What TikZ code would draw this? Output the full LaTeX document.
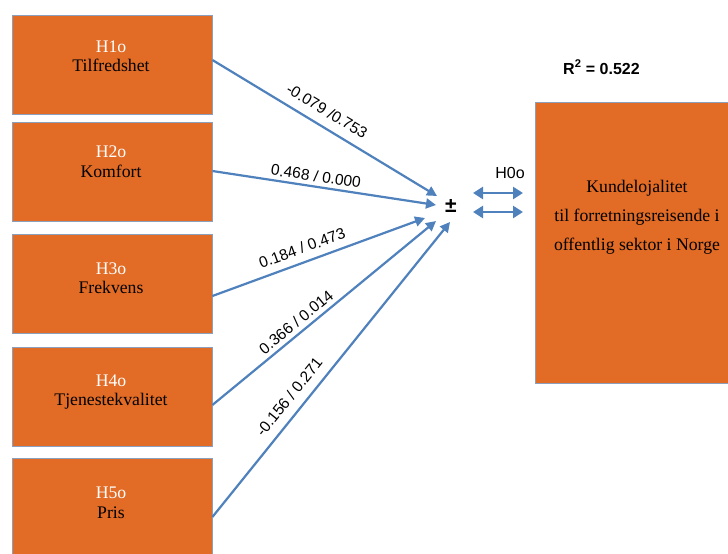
\documentclass[tikz,border=0pt]{standalone}
\usepackage{fontspec}
\setmainfont{Liberation Serif}
\newfontfamily\arialfont{Liberation Sans}
\usetikzlibrary{arrows.meta}
\definecolor{boxorange}{RGB}{226,107,38}
\definecolor{linkblue}{RGB}{79,129,189}
\definecolor{boxedge}{RGB}{140,160,190}
\begin{document}
\begin{tikzpicture}[x=1pt,y=-1pt,
  hbox/.style={draw=boxedge,line width=0.8pt,fill=boxorange,minimum width=200pt,minimum height=99pt,inner sep=0pt},
  bigbox/.style={draw=boxedge,line width=0.8pt,fill=boxorange,minimum width=205pt,minimum height=281pt,inner sep=0pt},
  hname/.style={anchor=base,inner sep=0pt,text=white,font=\fontsize{17.7}{20}\selectfont},
  hlabel/.style={anchor=base,inner sep=0pt,text=black,font=\fontsize{17.7}{20}\selectfont},
  link/.style={draw=linkblue,line width=2.2pt,-{Triangle[length=10pt,width=10pt]}},
  dlink/.style={draw=linkblue,line width=2.6pt,{Triangle[length=10pt,width=12pt]}-{Triangle[length=10pt,width=12pt]}},
  coef/.style={anchor=center,inner sep=0pt,text=black,font=\arialfont\fontsize{15.5}{18}\selectfont},
  sans/.style={inner sep=0pt,text=black,font=\arialfont\fontsize{16}{19}\selectfont}
]
\useasboundingbox (0,0) rectangle (728,554);
\clip (0,0) rectangle (728,554);
\fill[white] (0,0) rectangle (728,554);

% left boxes
\node[hbox] (h1) at (112,64.5) {};
\node[hbox] (h2) at (112,171.5) {};
\node[hbox] (h3) at (112,283.5) {};
\node[hbox] (h4) at (112,396.5) {};
\node[hbox] (h5) at (112,507.5) {};

\node[hname]  (h1a) at (111,52)  {H1o};
\node[hlabel] (h1b) at (111,71)  {Tilfredshet};
\node[hname]  (h2a) at (111,157) {H2o};
\node[hlabel] (h2b) at (111,177) {Komfort};
\node[hname]  (h3a) at (111,274) {H3o};
\node[hlabel] (h3b) at (111,293) {Frekvens};
\node[hname]  (h4a) at (111,386) {H4o};
\node[hlabel] (h4b) at (111,405) {Tjenestekvalitet};
\node[hname]  (h5a) at (111,498) {H5o};
\node[hlabel] (h5b) at (111,518) {Pris};

% right box
\node[bigbox] (kl) at (637.5,242.5) {};
\node[hlabel] (k1) at (637,192) {Kundelojalitet};
\node[hlabel] (k2) at (637,221) {til forretningsreisende i};
\node[hlabel] (k3) at (637,250) {offentlig sektor i Norge};

% arrow tips
\coordinate (t1) at (437,196);
\coordinate (t2) at (436,205);
\coordinate (t3) at (425,218);
\coordinate (t4) at (436,221);
\coordinate (t5) at (450,222);

\draw[link] ([yshift=4.5pt]h1.east) -- (t1);
\draw[link] ([yshift=0.5pt]h2.east) -- (t2);
\draw[link] ([yshift=-12.5pt]h3.east) -- (t3);
\draw[link] ([yshift=-8.5pt]h4.east) -- (t4);
\draw[link] ([yshift=-9.5pt]h5.east) -- (t5);

% coefficient labels
\node[coef,rotate=-31.1] (c1) at (327,111) {-0.079 /0.753};
\node[coef,rotate=-8.6]  (c2) at (316,176) {0.468 / 0.000};
\node[coef,rotate=20.1]  (c3) at (302,248) {0.184 / 0.473};
\node[coef,rotate=39.4]  (c4) at (296,322) {0.366 / 0.014};
\node[coef,rotate=51.1]  (c5) at (289,397) {-0.156 / 0.271};

% plus-minus
\node[sans,font=\arialfont\bfseries\fontsize{21}{23}\selectfont] (pm) at (451,206) {±};

% double arrows
\coordinate (d1a) at (473,193);
\coordinate (d1b) at (523,193);
\coordinate (d2a) at (473,212);
\coordinate (d2b) at (523,212);
\draw[dlink] (d1a) -- (d1b);
\draw[dlink] (d2a) -- (d2b);

\node[sans,anchor=base] (h0) at (510,178) {H0o};
\node[sans,anchor=base,font=\arialfont\bfseries\fontsize{16}{19}\selectfont] (r2) at (601.5,74) {R\textsuperscript{2} = 0.522};
\end{tikzpicture}
\end{document}
